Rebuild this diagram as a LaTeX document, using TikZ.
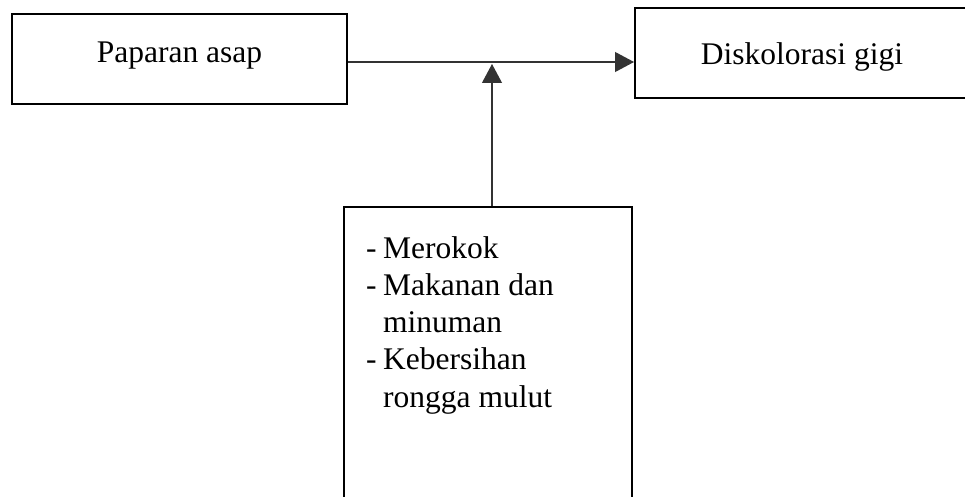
\documentclass[tikz,border=0pt]{standalone}
\usepackage{fontspec}
\setmainfont{Liberation Serif}
\usetikzlibrary{arrows.meta}
\begin{document}
\begin{tikzpicture}[x=1pt,y=-1pt,
  box/.style={draw=black,line width=2pt,rectangle,inner sep=0pt,fill=white},
  conn/.style={draw=black!80,line width=1.1pt,-{Triangle[length=19pt,width=20pt]}},
  txt/.style={font=\fontsize{31.5}{37.25}\selectfont}]
\useasboundingbox (0,0) rectangle (965,497);
\begin{scope}
\clip (0,0) rectangle (965,497);
\node[box,txt,minimum width=335pt,minimum height=90pt,text height=22pt,text depth=14pt] (cause) at (179.5,59) {Paparan asap};
\node[box,txt,minimum width=334pt,minimum height=90pt,text height=24pt,text depth=0pt] (effect) at (802,53) {Diskolorasi gigi};
\node[box,minimum width=288pt,minimum height=313pt] (factors) at (488,363.5) {};
\coordinate (m) at (492,62);
\coordinate (mt) at (492,64);
\node[txt,anchor=base west,inner sep=0pt] (list) at (366,258) {\renewcommand{\arraystretch}{1}\begin{tabular}[t]{@{}p{17pt}@{}l@{}}
-& Merokok\\
-& Makanan dan\\
 & minuman\\
-& Kebersihan\\
 & rongga mulut
\end{tabular}};
\draw[conn] (cause.east |- m) -- (effect.west |- m);
\draw[conn] (mt |- factors.north) -- (mt);
\end{scope}
\end{tikzpicture}
\end{document}
